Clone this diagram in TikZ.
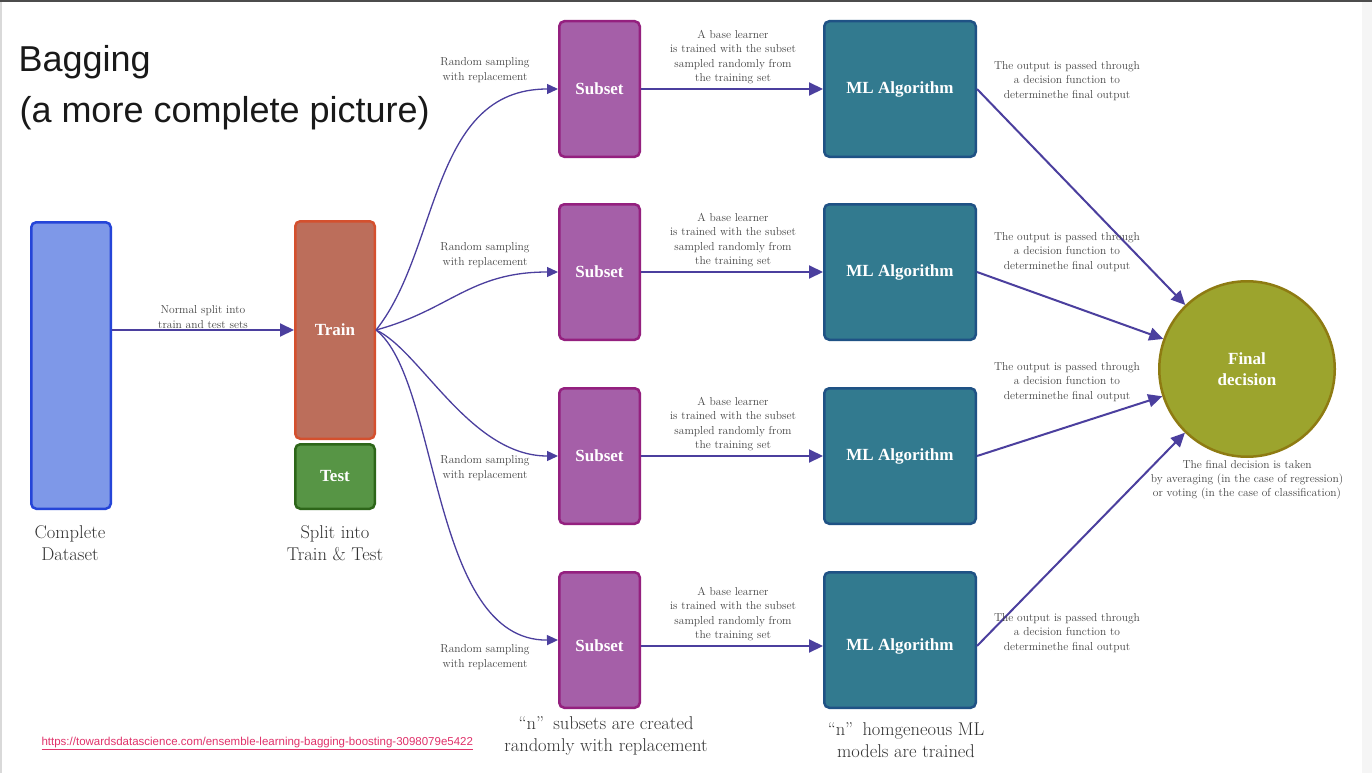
\documentclass[tikz,border=0pt]{standalone}
\usepackage{fontspec}
\newfontfamily\titlefont{Liberation Sans}
\newfontfamily\boxfont{Liberation Serif}
\usetikzlibrary{arrows.meta, positioning, calc}

\definecolor{arrowcol}{HTML}{4B3F9E}
\definecolor{labelgray}{HTML}{454545}
\definecolor{capgray}{HTML}{333333}
\definecolor{datafill}{HTML}{7E98E8}
\definecolor{dataedge}{HTML}{2545D8}
\definecolor{trainfill}{HTML}{BC6E5B}
\definecolor{trainedge}{HTML}{D4502E}
\definecolor{testfill}{HTML}{579545}
\definecolor{testedge}{HTML}{2D6619}
\definecolor{subfill}{HTML}{A55FA8}
\definecolor{subedge}{HTML}{94207F}
\definecolor{mlfill}{HTML}{327A8F}
\definecolor{mledge}{HTML}{1F5285}
\definecolor{finalfill}{HTML}{9CA42D}
\definecolor{finaledge}{HTML}{8E7B12}
\definecolor{linkcol}{HTML}{E0336B}

\tikzset{
  box/.style={rounded corners=5pt, line width=2.5pt, text=white, inner sep=0pt,
    align=center, font=\boxfont\fontsize{17}{21}\selectfont\bfseries},
  subset/.style={box, fill=subfill, draw=subedge, minimum width=80.5pt, minimum height=135.5pt},
  mlbox/.style={box, fill=mlfill, draw=mledge, minimum width=151.5pt, minimum height=135.5pt},
  lbl/.style={text=labelgray, align=center, font=\fontsize{11.5}{14.3}\selectfont},
  caption/.style={text=capgray, align=center, font=\fontsize{18.5}{22}\selectfont},
  flow/.style={draw=arrowcol, line width=2pt, -{Triangle[length=14pt,width=13pt]}},
  curve/.style={draw=arrowcol, line width=1.3pt, -{Triangle[length=11pt,width=10pt]}},
}

\begin{document}
\begin{tikzpicture}[x=1pt, y=-1pt]
\useasboundingbox (0,0) rectangle (1372,773);
% slide frame
\fill[white] (0,0) rectangle (1372,773);
\fill[black!70] (0,0) rectangle (1372,2);
\fill[black!15] (0,2) rectangle (2,773);
\fill[black!4] (1362,2) rectangle (1372,773);

% title
\node[anchor=base west, font=\titlefont\fontsize{36}{51}\selectfont, text=black!90] (title) at (15,72) {Bagging};
\node[anchor=base west, font=\titlefont\fontsize{36}{51}\selectfont, text=black!90] (subtitle) at (16,123) {(a more complete picture)};

% dataset and split
\node[box, fill=datafill, draw=dataedge, minimum width=79.5pt, minimum height=286.5pt] (data) at (71,365.5) {};
\node[box, fill=trainfill, draw=trainedge, minimum width=79.5pt, minimum height=217.5pt] (train) at (335,330) {Train};
\node[box, fill=testfill, draw=testedge, minimum width=79.5pt, minimum height=64.5pt] (test) at (335,476.5) {Test};
\draw[flow] (train.west -| data.east) -- (train.west);
\node[lbl] (splitlbl) at (203,317) {Normal split into\\train and test sets};
\node[caption] (datacap) at (70,543.5) {Complete\\Dataset};
\node[caption] (splitcap) at (335,543.5) {Split into\\Train \& Test};

% final decision
\node[circle, fill=finalfill, draw=finaledge, line width=2.5pt, minimum size=175.5pt, text=white,
  align=center, font=\boxfont\fontsize{17}{21}\selectfont\bfseries] (final) at (1247,369) {Final\\decision};
\node[lbl] (finallbl) at (1247,480) {The final decision is taken\\by averaging (in the case of regression)\\or voting (in the case of classification)};

% subsets and learners (\t: text offset inside the row)
\foreach \i/\y/\t/\s/\o in {1/89/0/70/81, 2/272/0/255/252, 3/456/0/468/382, 4/640/6/657/633} {
  \node[subset] (sub\i) at (599.5,\y) {\raisebox{-\t pt}[\height][\depth]{Subset}};
  \node[mlbox] (ml\i) at (900,\y) {\raisebox{-\t pt}[\height][\depth]{ML Algorithm}};
  \draw[flow] ([yshift=-\t pt]sub\i.east) -- ([yshift=-\t pt]ml\i.west);
  \draw[flow] ([yshift=-\t pt]ml\i.east) -- (final);
  \node[lbl] (samp\i) at (485,\s) {Random sampling\\with replacement};
  \node[lbl] (learn\i) at (733,\y+\t-32) {A base learner\\is trained with the subset\\sampled randomly from\\the training set};
  \node[lbl] (out\i) at (1067,\o) {The output is passed through\\a decision function to\\determinethe final output};
}

% sampling curves
\draw[curve] (train.east) .. controls (440,250) and (430,89) .. (sub1.west);
\draw[curve] (train.east) .. controls (450,310) and (470,272) .. (sub2.west);
\draw[curve] (train.east) .. controls (420,350) and (470,456) .. (sub3.west);
\draw[curve] (train.east) .. controls (440,380) and (430,641) .. (sub4.west);

% captions
\node[caption] (subcap) at (606,736) {“n”\enspace subsets are created\\randomly with replacement};
\node[caption] (mlcap) at (906,740) {“n”\enspace homgeneous ML\\models are trained};
\node[anchor=base west, text=linkcol, font=\titlefont\fontsize{11.5}{14}\selectfont] (link) at (38,745)
  {\underline{https://towardsdatascience.com/ensemble-learning-bagging-boosting-3098079e5422}};
\end{tikzpicture}
\end{document}
